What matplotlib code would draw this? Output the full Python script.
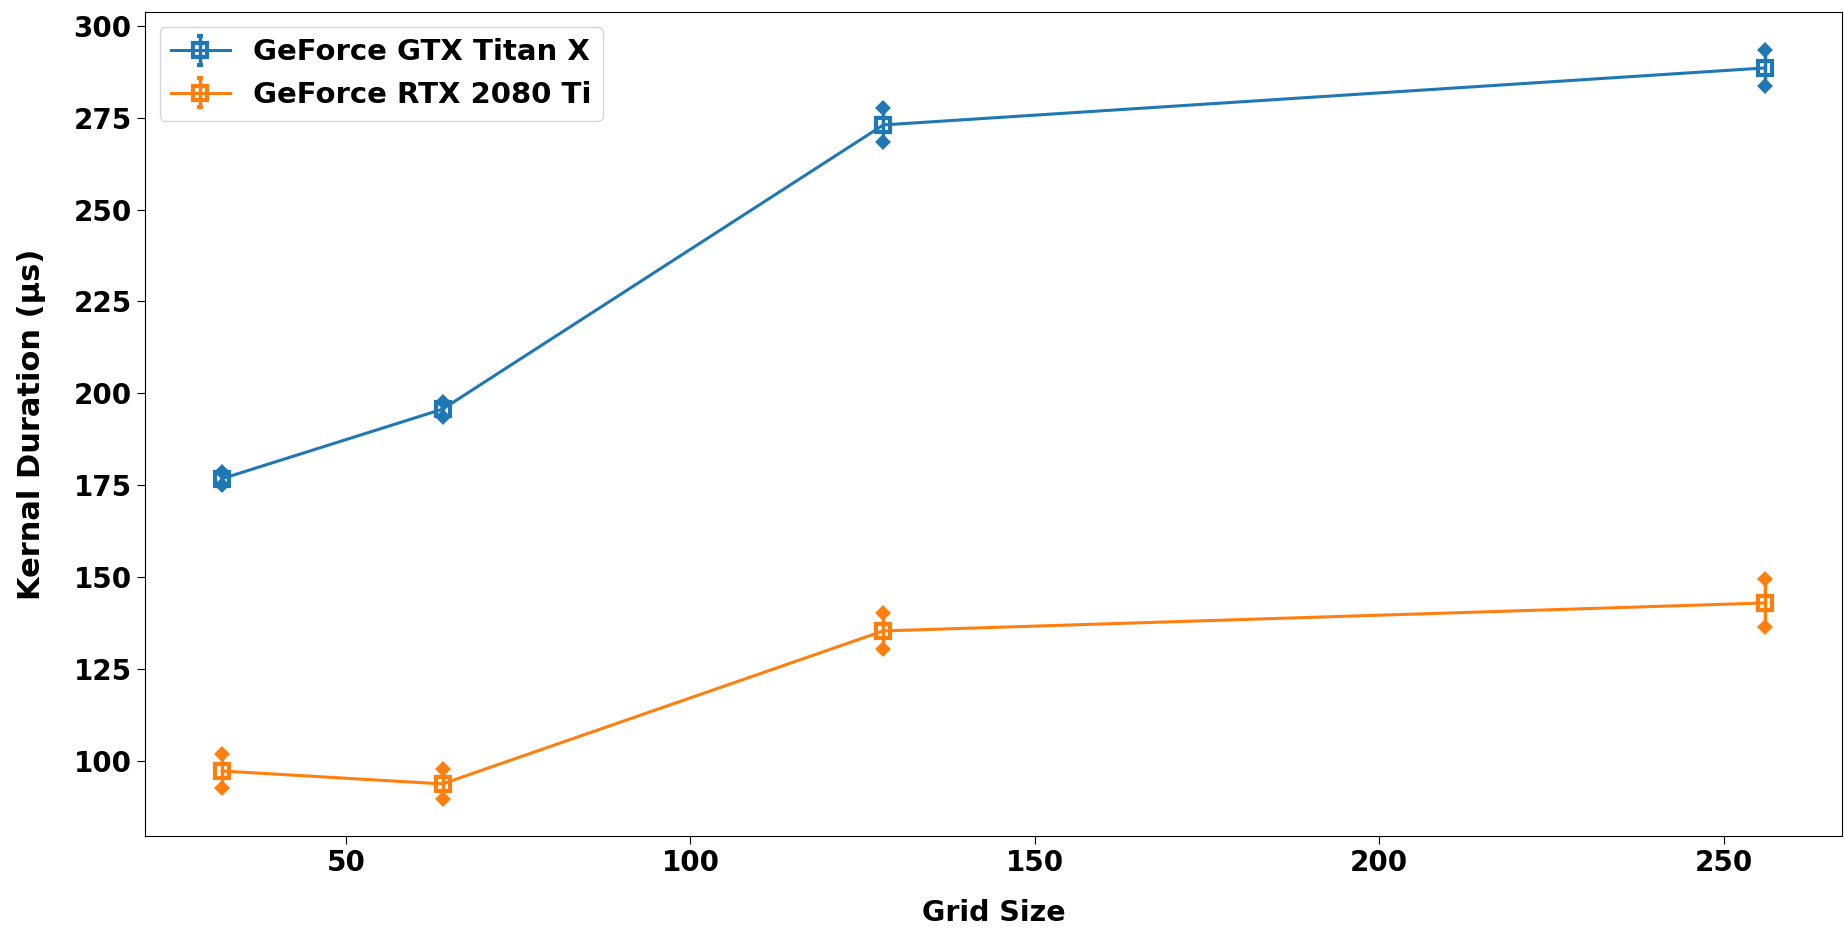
import numpy as np
import matplotlib
matplotlib.use('Agg')
import matplotlib.pyplot as plt

# dados
grid_sizes = [32, 64, 128, 256]

titan_x = [176.8, 195.7, 273.0, 288.5]
titan_x_err = [1.8, 2.0, 4.7, 5.0]

rtx_2080 = [97.3, 93.8, 135.4, 143.0]
rtx_2080_err = [4.5, 4.0, 5.0, 6.5]

labels = ['GeForce GTX Titan X', 'GeForce RTX 2080 Ti']

plt.rcParams['font.weight'] = 'bold'
plt.rcParams['axes.labelweight'] = 'bold'

fig, ax = plt.subplots(figsize=(18.44, 9.31), dpi=100)

for y, err, label, color in [(titan_x, titan_x_err, labels[0], 'tab:blue'),
                             (rtx_2080, rtx_2080_err, labels[1], 'tab:orange')]:
    _, caps, _ = ax.errorbar(grid_sizes, y, yerr=err, label=label, color=color,
                             marker='s', mfc='none', ms=10, mew=3, lw=2.2,
                             elinewidth=2.5, capsize=5, capthick=1)
    # caps em forma de losango
    for c in caps:
        c.set_marker('D')
        c.set_markersize(5)

ax.set_xlabel('Grid Size', fontsize=20.5, labelpad=16)
ax.set_ylabel('Kernal Duration (µs)', fontsize=22, labelpad=20)
ax.tick_params(labelsize=20, length=6)

ax.legend(fontsize=21, loc='upper left')

fig.subplots_adjust(left=0.0786, right=0.999, top=0.987, bottom=0.102)
fig.savefig('out.png')
